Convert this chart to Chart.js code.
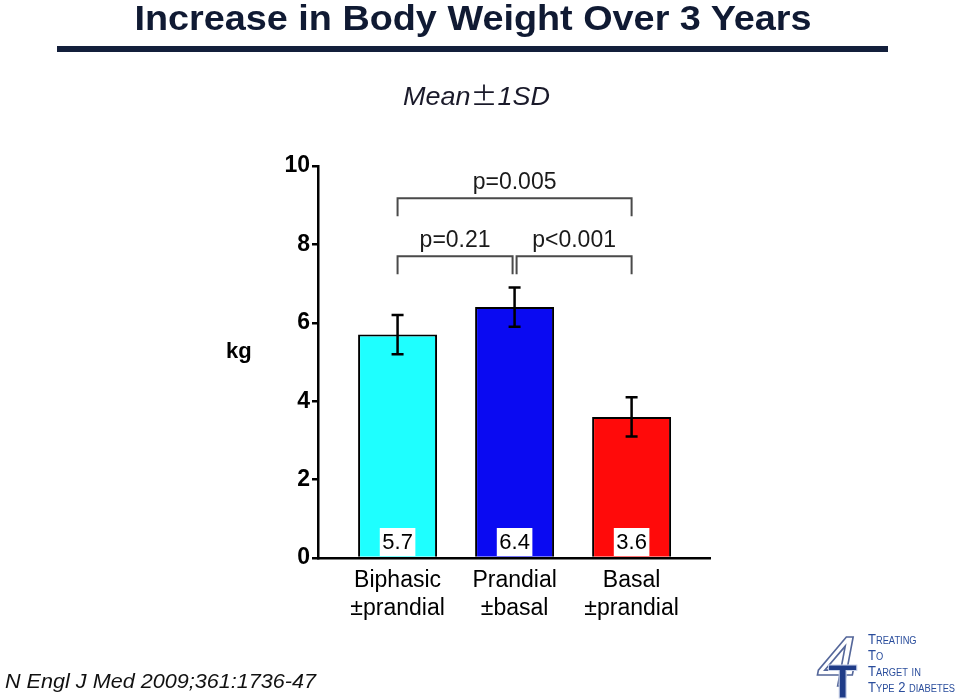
<!DOCTYPE html>
<html>
<head>
<meta charset="utf-8">
<script src="https://cdn.jsdelivr.net/npm/chart.js@4.4.0/dist/chart.umd.min.js"></script>
<style>
	body { margin: 0; background: #fff; }
	#wrap { position: relative; width: 960px; height: 700px; overflow: hidden; font-family: "Liberation Sans", Arial, Helvetica, sans-serif; }
	#chart { position: absolute; left: 0; top: 0; }
	.txt { position: absolute; white-space: nowrap; }
	#title { left: 0; top: 0; width: 946px; text-align: center; font-size: 35px; line-height: 35px; font-weight: bold; color: #101a33; transform: scaleX(1.08); }
	#rule { position: absolute; left: 57px; top: 46px; width: 831px; height: 6px; background: #131f3b; }
	#sub { left: 0; top: 82px; width: 953px; text-align: center; font-size: 25px; line-height: 25px; font-style: italic; color: #1a1a2a; transform: scaleX(1.08); }
	#sub .pm { font-family: "Noto Sans CJK JP", sans-serif; font-style: normal; }
	#kg { left: 226px; top: 340px; font-size: 22px; line-height: 22px; font-weight: bold; color: #000; }
	#foot { left: 5px; top: 671px; font-size: 20px; line-height: 20px; font-style: italic; color: #111; transform: scaleX(1.08); transform-origin: left center; }
	#logo { position: absolute; left: 815px; top: 630px; }
	#logotext { left: 868px; top: 631px; font-size: 14px; line-height: 16px; font-variant: small-caps; color: #2a4d9c; transform: scaleX(0.93); transform-origin: left center; }
</style>
</head>
<body>
<div id="wrap">
	<canvas id="chart" width="960" height="700"></canvas>
	<div class="txt" id="title">Increase in Body Weight Over 3 Years</div>
	<div id="rule"></div>
	<div class="txt" id="sub">Mean<span class="pm">±</span>1SD</div>
	<div class="txt" id="kg">kg</div>
	<div class="txt" id="foot">N Engl J Med 2009;361:1736-47</div>
	<svg id="logo" width="55" height="70" viewBox="0 0 55 70">
		<text x="2" y="56" font-size="70" font-style="italic" font-family="Liberation Sans, Arial" fill="none" stroke="#55679a" stroke-width="1.6">4</text>
		<text x="13" y="68" font-size="48" font-weight="bold" font-family="Liberation Sans, Arial" fill="#1f3c88" stroke="#c9d3ea" stroke-width="1">T</text>
	</svg>
	<div class="txt" id="logotext">Treating<br>To<br>Target in<br>Type 2 diabetes</div>
</div>
<script>
const categories = [['Biphasic', '±prandial'], ['Prandial', '±basal'], ['Basal', '±prandial']];
const means = [5.7, 6.4, 3.6];
const sds = [0.5, 0.5, 0.5];
const barColors = ['#1effff', '#0a0af2', '#ff0a0a'];
const yTicks = [0, 2, 4, 6, 8, 10];
const bracketPairs = [[0, 2], [0, 1], [1, 2]];
const bracketLevels = [9.18, 7.7, 7.7];
const bracketDrop = 0.46;
const pLabels = ['p=0.005', 'p=0.21', 'p<0.001'];

const points = means.map((m, i) => ({ x: i, y: m }));

// error bars, value boxes and p-value brackets
const extras = {
	id: 'extras',
	afterDatasetsDraw(chart) {
		const ctx = chart.ctx;
		const xs = chart.scales.x, ys = chart.scales.y;
		const y0 = ys.getPixelForValue(0);
		ctx.save();

		ctx.strokeStyle = '#000';
		ctx.lineWidth = 2.5;
		means.forEach((m, i) => {
			const x = xs.getPixelForValue(i);
			const top = ys.getPixelForValue(m + sds[i]);
			const bot = ys.getPixelForValue(m - sds[i]);
			ctx.beginPath();
			ctx.moveTo(x, top); ctx.lineTo(x, bot);
			ctx.moveTo(x - 6, top); ctx.lineTo(x + 6, top);
			ctx.moveTo(x - 6, bot); ctx.lineTo(x + 6, bot);
			ctx.stroke();
		});

		ctx.font = '22px "Liberation Sans", Arial, sans-serif';
		ctx.textAlign = 'center';
		ctx.textBaseline = 'middle';
		means.forEach((m, i) => {
			const x = xs.getPixelForValue(i);
			const label = m.toFixed(1);
			const w = ctx.measureText(label).width + 5;
			ctx.fillStyle = '#fff';
			ctx.fillRect(x - w / 2, y0 - 30, w, 28);
			ctx.fillStyle = '#000';
			ctx.fillText(label, x, y0 - 15);
		});

		ctx.strokeStyle = '#4a4a4a';
		ctx.lineWidth = 2;
		ctx.fillStyle = '#1a1a1a';
		ctx.font = '23px "Liberation Sans", Arial, sans-serif';
		ctx.textBaseline = 'alphabetic';
		bracketPairs.forEach(([a, b], k) => {
			const inner = k > 0;
			const x1 = xs.getPixelForValue(a) + (inner && a === 1 ? 2 : 0);
			const x2 = xs.getPixelForValue(b) - (inner && b === 1 ? 2 : 0);
			const y = ys.getPixelForValue(bracketLevels[k]);
			const yd = ys.getPixelForValue(bracketLevels[k] - bracketDrop);
			ctx.beginPath();
			ctx.moveTo(x1, yd); ctx.lineTo(x1, y); ctx.lineTo(x2, y); ctx.lineTo(x2, yd);
			ctx.stroke();
			ctx.fillText(pLabels[k], (x1 + x2) / 2, y - 9);
		});
		ctx.restore();
	}
};

new Chart(document.getElementById('chart'), {
	type: 'bar',
	data: {
		datasets: [{
			data: points,
			backgroundColor: barColors,
			borderColor: '#000',
			borderWidth: 2,
			categoryPercentage: 1,
			barPercentage: 0.675
		}]
	},
	options: {
		responsive: false,
		animation: false,
		layout: { padding: { left: 250, right: 250, top: 166, bottom: 62 } },
		plugins: { legend: { display: false }, tooltip: { enabled: false } },
		scales: {
			x: {
				type: 'linear',
				offset: false,
				min: -0.68,
				max: 2.67,
				grid: { display: false },
				border: { display: true, color: '#000', width: 2.5 },
				afterBuildTicks: (scale) => { scale.ticks = categories.map((c, i) => ({ value: i })); },
				afterFit: (scale) => { scale.height = 80; },
				ticks: {
					autoSkip: false,
					maxRotation: 0,
					padding: 1,
					color: '#000',
					font: { family: '"Liberation Sans", Arial, sans-serif', size: 23, lineHeight: 1.2 },
					callback: (v, i) => categories[i]
				}
			},
			y: {
				min: 0,
				max: 10,
				grid: { display: true, drawOnChartArea: false, drawTicks: true, tickLength: 6, color: '#000', lineWidth: 2.5 },
				border: { display: true, color: '#000', width: 2.5 },
				afterBuildTicks: (scale) => { scale.ticks = yTicks.map(v => ({ value: v })); },
				afterFit: (scale) => { scale.width = 68; },
				ticks: {
					padding: 2,
					color: '#000',
					font: { family: '"Liberation Sans", Arial, sans-serif', size: 23, weight: 'bold' }
				}
			}
		}
	},
	plugins: [extras]
});
</script>
</body>
</html>
